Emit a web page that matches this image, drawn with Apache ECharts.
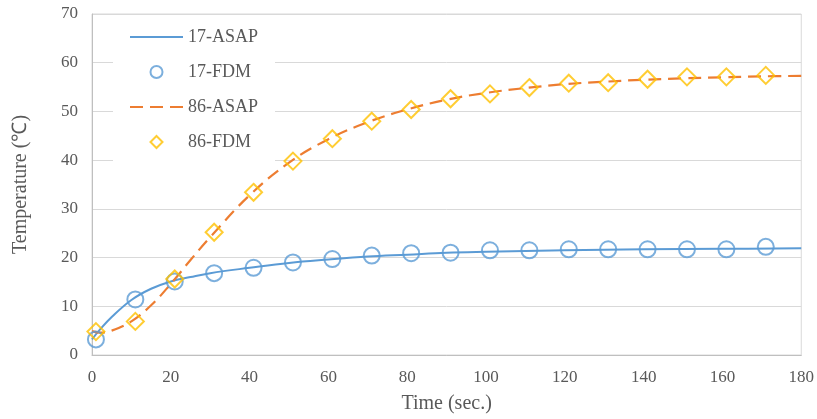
<!DOCTYPE html>
<html>
<head>
<meta charset="utf-8">
<script src="https://cdn.jsdelivr.net/npm/echarts@6/dist/echarts.min.js"></script>
<style>
html,body{margin:0;padding:0;background:#fff;}
#chart{width:817px;height:419px;}
</style>
</head>
<body>
<div id="chart"></div>
<script>
// ASAP model curves (time, temperature)
var asap17X = [0, 2, 5, 10, 15, 20, 25, 30, 40, 50, 60, 70, 80, 90, 100, 120, 140, 160, 180];
var asap17Y = [3.2, 5.2, 7.8, 11.3, 13.6, 15.1, 16.0, 16.8, 17.9, 18.9, 19.6, 20.2, 20.6, 21.0, 21.2, 21.5, 21.7, 21.8, 21.9];
var asap86X = [0, 2, 5, 10, 15, 20, 25, 30, 40, 50, 60, 70, 80, 90, 100, 110, 120, 130, 140, 150, 160, 170, 180];
var asap86Y = [4.9, 4.6, 5.0, 6.9, 10.2, 14.6, 19.5, 24.2, 32.8, 39.5, 44.3, 47.8, 50.4, 52.4, 53.8, 54.8, 55.6, 56.1, 56.5, 56.8, 57.0, 57.2, 57.3];
// FDM results
var fdmX = [1, 11, 21, 31, 41, 51, 61, 71, 81, 91, 101, 111, 121, 131, 141, 151, 161, 171];
var fdm17Y = [3.2, 11.4, 15.1, 16.8, 17.9, 19.0, 19.7, 20.4, 20.9, 21.0, 21.5, 21.5, 21.7, 21.7, 21.7, 21.7, 21.7, 22.2];
var fdm86Y = [4.8, 6.9, 15.6, 25.2, 33.4, 39.8, 44.4, 48.0, 50.4, 52.6, 53.6, 54.9, 55.8, 55.9, 56.6, 57.1, 57.1, 57.4];
var xTicks = [0, 20, 40, 60, 80, 100, 120, 140, 160, 180];
var yTicks = [0, 10, 20, 30, 40, 50, 60, 70];

function pairs(xs, ys){ return xs.map(function(x,i){ return [x, ys[i]]; }); }

var font = '"Liberation Serif", "Times New Roman", serif';
var txt = '#595959';
var hidden = {color: 'rgba(0,0,0,0)', borderWidth: 0, borderColor: 'rgba(0,0,0,0)'};
var chart = echarts.init(document.getElementById('chart'), null, {renderer:'canvas'});
chart.setOption({
  animation: false,
  backgroundColor: '#fff',
  textStyle: {fontFamily: font},
  grid: {left: 92, right: 15, top: 14, bottom: 64, show: true, borderColor: '#d9d9d9', borderWidth: 1, backgroundColor: 'transparent'},
  legend: {
    orient: 'vertical', left: 113, top: 16,
    backgroundColor: '#fff',
    padding: [12, 17, 12, 16],
    itemWidth: 53, itemHeight: 12, itemGap: 17,
    symbolKeepAspect: true,
    textStyle: {fontFamily: font, fontSize: 18, color: txt, padding: [0,0,0,0]},
    data: [
      {name: '17-ASAP', itemStyle: hidden},
      {name: '17-FDM', icon: 'circle'},
      {name: '86-ASAP', itemStyle: hidden},
      {name: '86-FDM', icon: 'path://M6,0L12,6L6,12L0,6Z'}
    ]
  },
  xAxis: {
    type: 'value', min: xTicks[0], max: xTicks[xTicks.length-1], interval: 20,
    name: 'Time (sec.)', nameLocation: 'middle', nameGap: 39,
    nameTextStyle: {fontFamily: font, fontSize: 20, color: txt},
    axisLine: {show: true, lineStyle: {color: '#bfbfbf'}},
    axisTick: {show: false},
    axisLabel: {fontFamily: font, fontSize: 17, color: txt, margin: 14},
    splitLine: {show: false}
  },
  yAxis: {
    type: 'value', min: yTicks[0], max: yTicks[yTicks.length-1], interval: 10,
    name: 'Temperature (\u2103)', nameLocation: 'middle', nameGap: 61,
    nameTextStyle: {fontFamily: font, fontSize: 20, color: txt},
    axisLine: {show: true, lineStyle: {color: '#bfbfbf'}},
    axisTick: {show: false},
    axisLabel: {fontFamily: font, fontSize: 17, color: txt, margin: 14},
    splitLine: {show: true, lineStyle: {color: '#d9d9d9', width: 1}}
  },
  series: [
    {name: '17-ASAP', type: 'line', data: pairs(asap17X, asap17Y), smooth: 0.4, symbol: 'none', showSymbol: false,
     lineStyle: {color: '#5B9BD5', width: 2}, itemStyle: {color: '#5B9BD5'}, z: 2},
    {name: '17-FDM', type: 'scatter', data: pairs(fdmX, fdm17Y), symbol: 'circle', symbolSize: 16,
     itemStyle: {color: 'rgba(255,255,255,0)', borderColor: '#5B9BD5', borderWidth: 2}, z: 4},
    {name: '86-ASAP', type: 'line', data: pairs(asap86X, asap86Y), smooth: 0.4, symbol: 'none', showSymbol: false,
     lineStyle: {color: '#ED7D31', width: 2.2, type: [13, 7]}, itemStyle: {color: '#ED7D31'}, z: 3},
    {name: '86-FDM', type: 'scatter', data: pairs(fdmX, fdm86Y), symbol: 'diamond', symbolSize: 17,
     itemStyle: {color: 'rgba(255,255,255,0)', borderColor: '#FFC000', borderWidth: 2}, z: 5}
  ]
});
</script>
</body>
</html>
